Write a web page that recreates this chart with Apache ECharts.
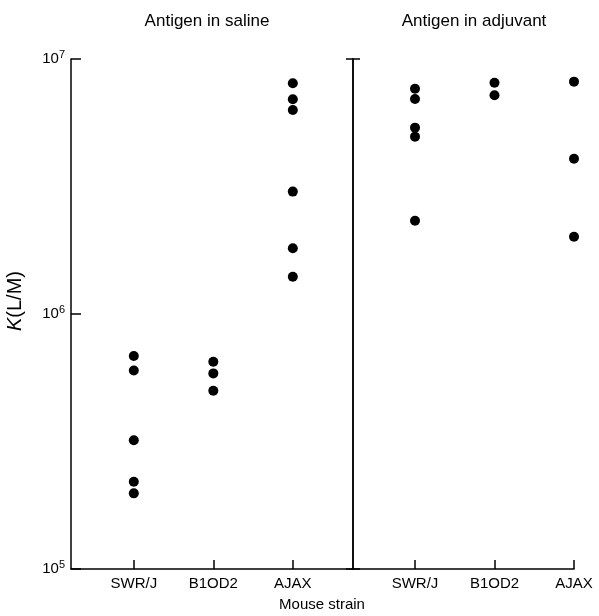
<!DOCTYPE html>
<html>
<head>
<meta charset="utf-8">
<script src="https://cdn.jsdelivr.net/npm/echarts@6/dist/echarts.min.js"></script>
<style>
  html, body { margin: 0; padding: 0; background: #fff; }
  #chart { width: 599px; height: 616px; }
</style>
</head>
<body>
<div id="chart"></div>
<script>
// mouse strains along the x axis
const strains = ["SWR/J", "B1OD2", "AJAX"];

// K (L/M) values
// antigen in saline
const salineSWR = [6.84e5, 6.0e5, 3.2e5, 2.2e5, 1.98e5];
const salineB10D2 = [6.5e5, 5.85e5, 5.0e5];
const salineAJAX = [8.03e6, 6.95e6, 6.31e6, 3.02e6, 1.81e6, 1.4e6];
// antigen in adjuvant
const adjuvantSWR = [7.65e6, 6.97e6, 5.38e6, 4.96e6, 2.32e6];
const adjuvantB10D2 = [8.07e6, 7.21e6];
const adjuvantAJAX = [8.15e6, 4.06e6, 2.01e6];

const yMin = 1e5;
const yMax = 1e7;

const black = "#000";
const font = "Liberation Sans";

function toPoints(idx, values) {
	return values.map((v) => [idx, v]);
}

const myChart = echarts.init(document.getElementById("chart"));

const xAxisBase = {
	type: "value",
	axisLine: { show: true, onZero: false, lineStyle: { color: black, width: 1.5 } },
	splitLine: { show: false },
	axisTick: { show: true, inside: true, length: 9, customValues: [0, 1, 2], lineStyle: { color: black, width: 1.5 } },
	axisLabel: {
		customValues: [0, 1, 2],
		formatter: (v) => strains[Math.round(v)],
		color: black,
		fontFamily: font,
		fontSize: 15,
		margin: 7,
	},
};

const yAxisBase = {
	type: "log",
	logBase: 10,
	min: yMin,
	max: yMax,
	splitLine: { show: false },
	minorTick: { show: false },
	axisLine: { show: true, onZero: false, lineStyle: { color: black, width: 1.5 } },
	axisTick: { show: true, inside: true, length: 10, lineStyle: { color: black, width: 1.5 } },
};

myChart.setOption({
	backgroundColor: "#fff",
	animation: false,
	grid: [
		{ left: 71, top: 59, width: 282, height: 510 },
		{ left: 353, top: 59, width: 221, height: 510 },
	],
	xAxis: [
		Object.assign({}, xAxisBase, { gridIndex: 0, min: -0.79, max: 2.757 }),
		Object.assign({}, xAxisBase, { gridIndex: 1, min: -0.78, max: 2 }),
	],
	yAxis: [
		Object.assign({}, yAxisBase, {
			gridIndex: 0,
			position: "left",
			name: "{k|K}{n|(L/M)}",
			nameLocation: "middle",
			nameGap: 46,
			nameTextStyle: {
				color: black,
				fontFamily: font,
				fontSize: 20,
				padding: [0, 0, 0, 26],
				rich: {
					k: { fontStyle: "italic", fontSize: 20, fontFamily: font, color: black },
					n: { fontStyle: "normal", fontSize: 20, fontFamily: font, color: black },
				},
			},
			axisLabel: {
				margin: 6,
				formatter: (v) => "{b|10}{s|" + Math.round(Math.log10(v)) + "}",
				rich: {
					b: { fontSize: 15, fontFamily: font, color: black },
					s: { fontSize: 11, fontFamily: font, color: black, padding: [0, 0, 9, 0] },
				},
			},
		}),
		// divider, left half of the T at its top
		Object.assign({}, yAxisBase, {
			gridIndex: 0,
			position: "right",
			splitNumber: 1,
			axisTick: { show: true, inside: true, length: 7, lineStyle: { color: black, width: 1.5 } },
			axisLabel: { show: false },
		}),
		// divider, right half of the T at its top
		Object.assign({}, yAxisBase, {
			gridIndex: 1,
			position: "left",
			splitNumber: 1,
			axisTick: { show: true, inside: true, length: 7, lineStyle: { color: black, width: 1.5 } },
			axisLabel: { show: false },
		}),
	],
	series: [
		[0, 0, 0, salineSWR],
		[0, 0, 1, salineB10D2],
		[0, 0, 2, salineAJAX],
		[1, 2, 0, adjuvantSWR],
		[1, 2, 1, adjuvantB10D2],
		[1, 2, 2, adjuvantAJAX],
	].map(([xi, yi, idx, vals]) => ({
		type: "scatter",
		xAxisIndex: xi,
		yAxisIndex: yi,
		symbol: "circle",
		symbolSize: 10,
		itemStyle: { color: black, opacity: 1 },
		data: toPoints(idx, vals),
	})),
	graphic: [
		{
			type: "text",
			x: 207,
			y: 21,
			style: { text: "Antigen in saline", align: "center", verticalAlign: "middle", fontSize: 17, fontFamily: font, fill: black },
		},
		{
			type: "text",
			x: 474,
			y: 21,
			style: { text: "Antigen in adjuvant", align: "center", verticalAlign: "middle", fontSize: 17, fontFamily: font, fill: black },
		},
		{
			type: "text",
			x: 322,
			y: 605,
			style: { text: "Mouse strain", align: "center", verticalAlign: "middle", fontSize: 15, fontFamily: font, fill: black },
		},
	],
});
</script>
</body>
</html>
